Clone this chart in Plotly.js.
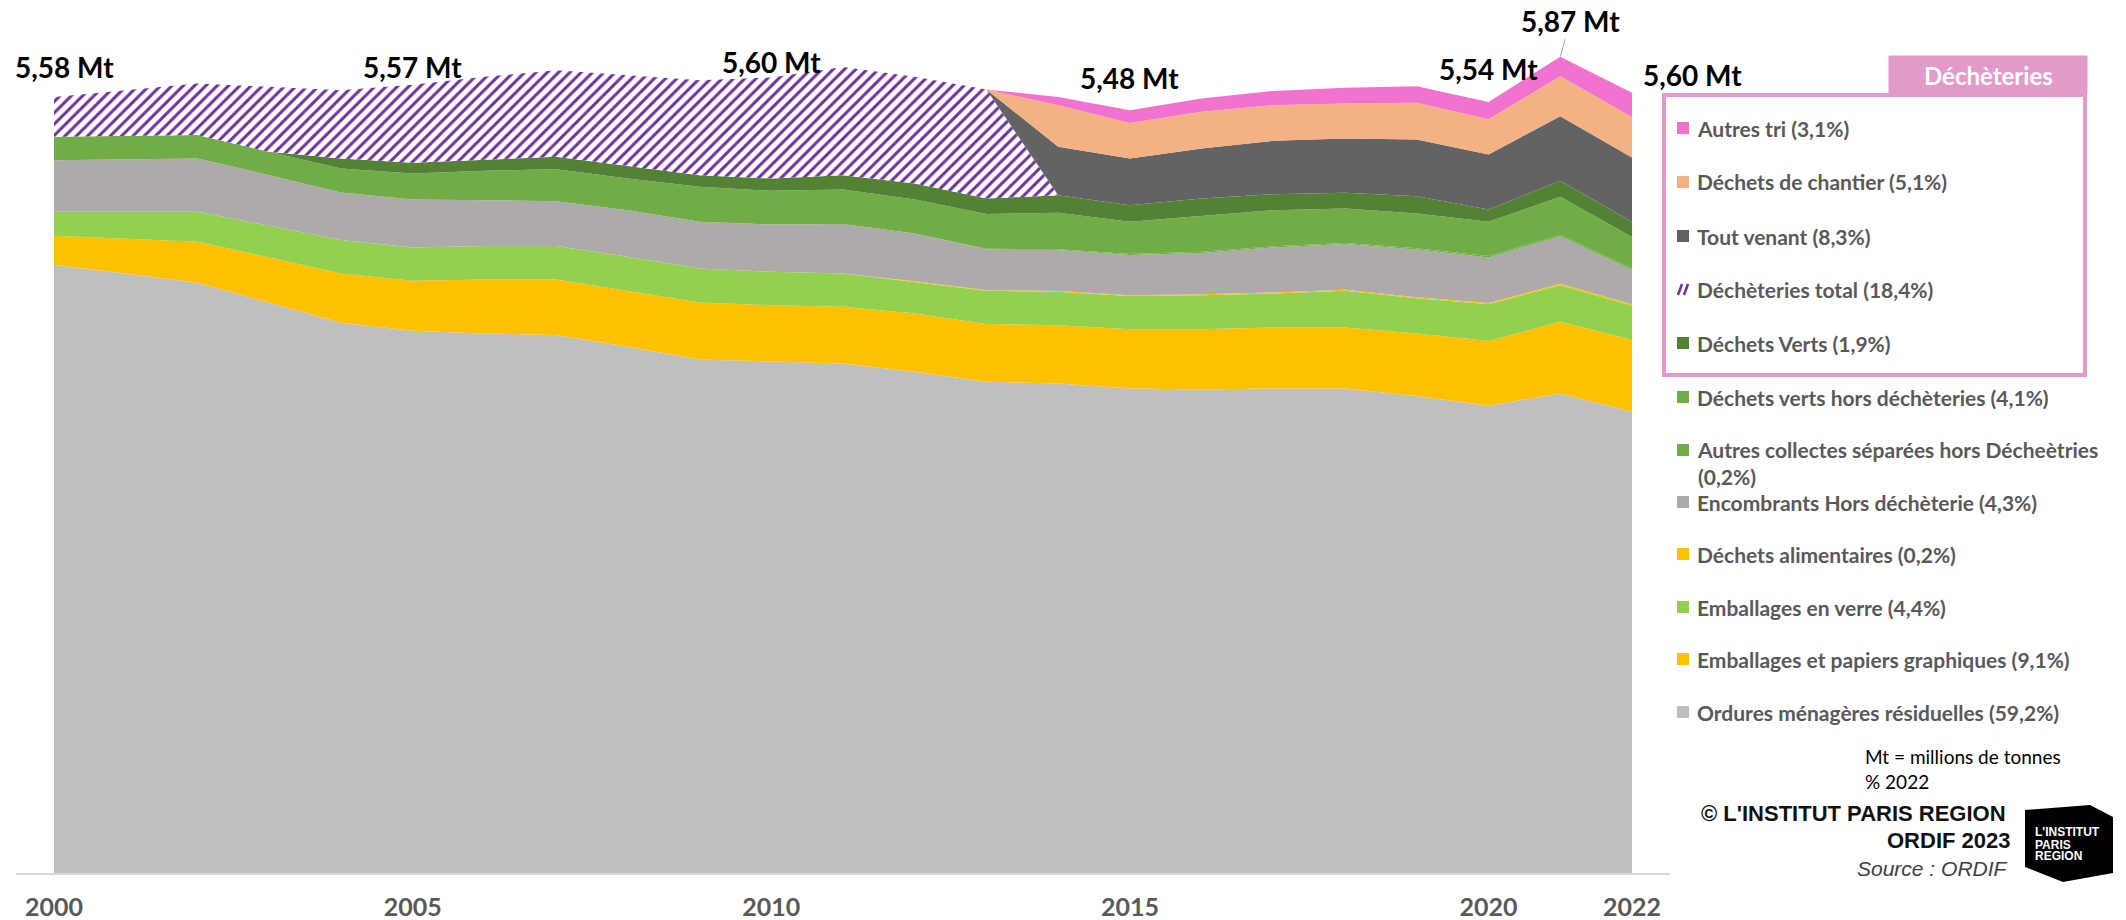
<!DOCTYPE html>
<html>
<head>
<meta charset="utf-8">
<script src="https://cdn.plot.ly/plotly-3.0.1.min.js"></script>
<style>body{margin:0;background:#fff}</style>
</head>
<body>
<div id="chart" style="width:2126px;height:920px"></div>
<script>
// Years on the x axis
let years = [2000, 2001, 2002, 2003, 2004, 2005, 2006, 2007, 2008, 2009, 2010, 2011,
             2012, 2013, 2014, 2015, 2016, 2017, 2018, 2019, 2020, 2021, 2022]
let tickYears = [2000, 2005, 2010, 2015, 2020, 2022]

// Tonnages in millions of tonnes (bottom of the stack first)
let omr = [4.372, 4.312, 4.245, 4.101, 3.957, 3.900, 3.881, 3.869, 3.784, 3.693, 3.677, 3.665,
           3.605, 3.533, 3.521, 3.485, 3.478, 3.485, 3.485, 3.430, 3.360, 3.449, 3.317]
let emballagesPapiers = [0.211, 0.249, 0.295, 0.326, 0.355, 0.359, 0.388, 0.400, 0.403, 0.411, 0.407, 0.407,
                         0.419, 0.415, 0.419, 0.425, 0.432, 0.439, 0.439, 0.451, 0.467, 0.515, 0.516]
let verre = [0.172, 0.194, 0.215, 0.228, 0.240, 0.240, 0.240, 0.240, 0.245, 0.244, 0.240, 0.240,
             0.228, 0.239, 0.240, 0.239, 0.246, 0.244, 0.263, 0.252, 0.264, 0.264, 0.246]
let alimentaires = [0, 0, 0, 0, 0, 0, 0, 0, 0, 0, 0, 0,
                    0.004, 0.005, 0.006, 0.006, 0.006, 0.007, 0.007, 0.008, 0.008, 0.010, 0.011]
let encombrants = [0.372, 0.379, 0.384, 0.364, 0.342, 0.345, 0.330, 0.323, 0.335, 0.336, 0.340, 0.355,
                   0.344, 0.293, 0.294, 0.289, 0.298, 0.324, 0.329, 0.344, 0.328, 0.342, 0.246]
let autresCollectes = [0, 0, 0, 0, 0, 0, 0, 0, 0, 0, 0, 0,
                       0, 0.005, 0.006, 0.008, 0.008, 0.008, 0.008, 0.008, 0.010, 0.010, 0.011]
let vertsHors = [0.168, 0.168, 0.168, 0.168, 0.173, 0.187, 0.211, 0.230, 0.228, 0.251, 0.242, 0.249,
                 0.244, 0.249, 0.262, 0.232, 0.256, 0.260, 0.248, 0.251, 0.247, 0.273, 0.228]
let dechetsVerts = [0, 0, 0, 0, 0.072, 0.077, 0.077, 0.089, 0.089, 0.084, 0.089, 0.103,
                    0.115, 0.112, 0.127, 0.119, 0.127, 0.115, 0.113, 0.124, 0.088, 0.115, 0.109]
let decheteriesTotal = [0.287, 0.328, 0.371, 0.467, 0.491, 0.562, 0.599, 0.623, 0.654, 0.683, 0.726, 0.778,
                        0.767, 0.784, 0, 0, 0, 0, 0, 0, 0, 0, 0]
let toutVenant = [0, 0, 0, 0, 0, 0, 0, 0, 0, 0, 0, 0,
                  0, 0, 0.348, 0.336, 0.360, 0.384, 0.391, 0.408, 0.395, 0.465, 0.462]
let chantier = [0, 0, 0, 0, 0, 0, 0, 0, 0, 0, 0, 0,
                0, 0, 0.299, 0.256, 0.264, 0.256, 0.251, 0.263, 0.254, 0.288, 0.292]
let autresTri = [0, 0, 0, 0, 0, 0, 0, 0, 0, 0, 0, 0,
                 0, 0, 0.060, 0.091, 0.096, 0.103, 0.113, 0.120, 0.125, 0.139, 0.173]

let names = ["Ordures ménagères résiduelles", "Emballages et papiers graphiques", "Emballages en verre",
             "Déchets alimentaires", "Encombrants Hors déchèterie", "Autres collectes séparées hors Décheètries",
             "Déchets verts hors déchèteries", "Déchets Verts", "Déchèteries total", "Tout venant",
             "Déchets de chantier", "Autres tri"]
let shares = ["(59,2%)", "(9,1%)", "(4,4%)", "(0,2%)", "(4,3%)", "(0,2%)", "(4,1%)", "(1,9%)",
              "(18,4%)", "(8,3%)", "(5,1%)", "(3,1%)"]
let colors = ["#BFBFBF", "#FFC000", "#92D050", "#FFC000", "#AEAAAA", "#70AD47", "#70AD47", "#548235",
              "#7030A0", "#636363", "#F4B183", "#F272CF"]

// Total labels above the stack
let totalYears = [2000, 2005, 2010, 2015, 2020, 2021, 2022]
let totalLabels = ["5,58 Mt", "5,57 Mt", "5,60 Mt", "5,48 Mt", "5,54 Mt", "5,87 Mt", "5,60 Mt"]
let totalValue2021 = 5.87

let series = [omr, emballagesPapiers, verre, alimentaires, encombrants, autresCollectes,
              vertsHors, dechetsVerts, decheteriesTotal, toutVenant, chantier, autresTri]

// Build one stacked area trace per series
let data = []
for (let i = 0; i < series.length; i++) {
    let trace = {
        x: years,
        y: series[i],
        name: names[i],
        type: "scatter",
        mode: "lines",
        stackgroup: "one",
        line: {width: 0},
        fillcolor: colors[i],
        hoverinfo: "skip",
        showlegend: false
    }
    if (names[i] === "Déchèteries total") {
        trace.fillcolor = "#FFFFFF"
        trace.fillpattern = {shape: "/", fgcolor: "#7030A0", bgcolor: "#FFFFFF", size: 8, solidity: 0.38}
    }
    data.push(trace)
}

// Pixel helpers for the hand-made legend (plot area runs 16..1670 x 4..873)
const W = 2126, H = 920, L = 16, R = 456, T = 4, B = 47
const pw = W - L - R, ph = H - T - B
function px(x) { return (x - L) / pw }
function py(y) { return (H - B - y) / ph }

let fontFamily = "Lato, 'Open Sans', sans-serif"
let arial = "'Liberation Sans', Arial, sans-serif"
let annotations = []
let shapes = []

// text placed at pixel position, anchors always explicit
function note(x, y, text, font, xanchor) {
    annotations.push({x: px(x), y: py(y), xref: "paper", yref: "paper", text: text, showarrow: false,
                      xanchor: xanchor || "center", yanchor: "middle", align: "left", font: font})
}

// Totals
let totalFont = {family: fontFamily, size: 28, color: "#000", weight: "bold"}
let labelPos = [[2000.14, 5.80], [2005.0, 5.80], [2010.0, 5.83], [2015.0, 5.72], [2020.0, 5.78]]
for (let i = 0; i < labelPos.length; i++) {
    annotations.push({
        x: labelPos[i][0], y: labelPos[i][1], xref: "x", yref: "y", xanchor: "center", yanchor: "middle",
        text: totalLabels[i], showarrow: false, font: totalFont
    })
}
annotations.push({
    x: 2021, y: totalValue2021, xref: "x", yref: "y", text: totalLabels[5],
    showarrow: true, arrowhead: 0, arrowwidth: 1, arrowcolor: "#A6A6A6", ax: 10, ay: -36, standoff: 0,
    font: totalFont
})
note(1692, 75, totalLabels[6], totalFont)

// Déchèteries box
let pink = "#E29ACB"
shapes.push({type: "rect", xref: "paper", yref: "paper", x0: px(1664), x1: px(2085), y0: py(375), y1: py(95),
             line: {color: pink, width: 4}, fillcolor: "rgba(0,0,0,0)"})
shapes.push({type: "rect", xref: "paper", yref: "paper", x0: px(1889), x1: px(2087), y0: py(93), y1: py(56),
             line: {color: pink, width: 1}, fillcolor: pink})
note(1988, 75, "Déchèteries", {family: fontFamily, size: 24, color: "#FFF", weight: "bold"})

// Legend entries, top to bottom
let legendFont = {family: fontFamily, size: 21, color: "#595959", weight: "bold"}
let legendOrder = [11, 10, 9, 8, 7, 6, 5, 4, 3, 2, 1, 0]
let legendY = [128, 182, 236, 289, 343, 397, 450, 502, 554, 607, 659, 712]
for (let k = 0; k < legendOrder.length; k++) {
    let i = legendOrder[k]
    let yc = legendY[k]
    let label = names[i] + " " + shares[i]
    let yText = yc
    if (i === 5) {
        label = names[i] + "<br>" + shares[i]
        yText = yc + 13
    }
    if (i === 8) {
        shapes.push({type: "line", xref: "paper", yref: "paper", x0: px(1678), y0: py(yc + 6), x1: px(1682), y1: py(yc - 5),
                     line: {color: colors[i], width: 2.5}})
        shapes.push({type: "line", xref: "paper", yref: "paper", x0: px(1684), y0: py(yc + 6), x1: px(1688), y1: py(yc - 5),
                     line: {color: colors[i], width: 2.5}})
    } else {
        shapes.push({type: "rect", xref: "paper", yref: "paper", x0: px(1677), x1: px(1689), y0: py(yc + 6), y1: py(yc - 6),
                     line: {width: 0}, fillcolor: colors[i]})
    }
    note(1695, yText, label, legendFont, "left")
}

// Notes and credits
note(1863, 756, "Mt = millions de tonnes", {family: fontFamily, size: 19, color: "#000"}, "left")
note(1863, 781, "% 2022", {family: fontFamily, size: 19, color: "#000"}, "left")
note(2008, 813, "© L'INSTITUT PARIS REGION", {family: arial, size: 22, color: "#111", weight: "bold"}, "right")
note(2013, 840, "ORDIF 2023", {family: arial, size: 22, color: "#111", weight: "bold"}, "right")
note(2010, 868, "Source : ORDIF", {family: arial, size: 21, color: "#404040", style: "italic"}, "right")

// Logo block
let logo = [[2025, 810], [2090, 805], [2113, 817], [2113, 873], [2063, 882], [2025, 867]]
let path = logo.map((p, j) => (j === 0 ? "M" : "L") + px(p[0]).toFixed(5) + "," + py(p[1]).toFixed(5)).join(" ") + " Z"
shapes.push({type: "path", xref: "paper", yref: "paper", path: path, fillcolor: "#000", line: {width: 0}})
let logoLines = [["L'INSTITUT", 832], ["PARIS", 845], ["REGION", 856]]
for (let j = 0; j < logoLines.length; j++) {
    note(2033, logoLines[j][1], logoLines[j][0], {family: arial, size: 12, color: "#FFF", weight: "bold"}, "left")
}

let layout = {
    width: W,
    height: H,
    margin: {l: L, r: R, t: T, b: B, pad: 0},
    paper_bgcolor: "#FFFFFF",
    plot_bgcolor: "#FFFFFF",
    showlegend: false,
    xaxis: {
        range: [1999.47, 2022.53],
        tickvals: tickYears,
        ticktext: tickYears.map(String),
        showgrid: false,
        zeroline: false,
        showline: true,
        linecolor: "#D9D9D9",
        linewidth: 2,
        ticks: "",
        ticklabelstandoff: 11,
        tickfont: {family: fontFamily, size: 25, color: "#595959", weight: "bold"}
    },
    yaxis: {
        range: [0, 6.25],
        visible: false
    },
    annotations: annotations,
    shapes: shapes
}

Plotly.newPlot("chart", data, layout, {displayModeBar: false, staticPlot: true})
</script>
</body>
</html>
